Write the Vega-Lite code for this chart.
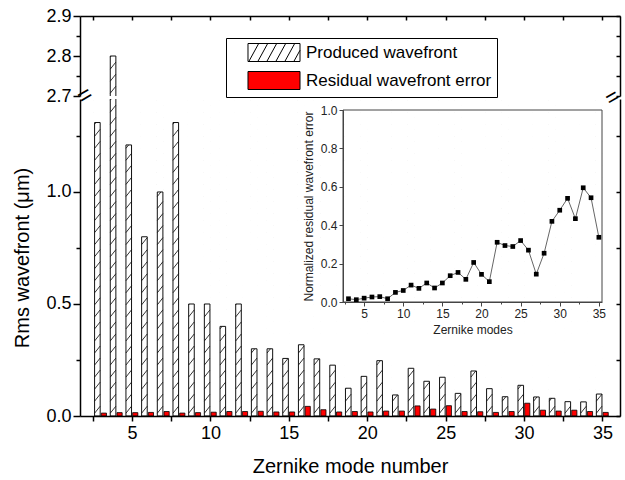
{
 "$schema": "https://vega.github.io/schema/vega-lite/v6.json",
 "padding": {"left": 12, "top": 7, "right": 2, "bottom": 2},
 "bounds": "flush",
 "spacing": 3,
 "config": {
   "font": "Liberation Sans",
   "view": {"stroke": null},
   "axis": {"grid": false, "domain": true, "ticks": true, "domainColor": "black", "tickColor": "black", "labelColor": "black", "titleColor": "black", "titleFontWeight": "normal", "domainOpacity": 1, "tickOpacity": 1, "domainWidth": 1.5, "tickWidth": 1.5}
 },
 "datasets": {
  "bars": [
   {"mode":3,"series":"Produced wavefront","rms":1.31},{"mode":4,"series":"Produced wavefront","rms":2.8},{"mode":5,"series":"Produced wavefront","rms":1.21},{"mode":6,"series":"Produced wavefront","rms":0.8},{"mode":7,"series":"Produced wavefront","rms":1.0},{"mode":8,"series":"Produced wavefront","rms":1.31},{"mode":9,"series":"Produced wavefront","rms":0.5},{"mode":10,"series":"Produced wavefront","rms":0.5},{"mode":11,"series":"Produced wavefront","rms":0.4},{"mode":12,"series":"Produced wavefront","rms":0.5},{"mode":13,"series":"Produced wavefront","rms":0.3},{"mode":14,"series":"Produced wavefront","rms":0.3},{"mode":15,"series":"Produced wavefront","rms":0.257},{"mode":16,"series":"Produced wavefront","rms":0.318},{"mode":17,"series":"Produced wavefront","rms":0.255},{"mode":18,"series":"Produced wavefront","rms":0.227},{"mode":19,"series":"Produced wavefront","rms":0.124},{"mode":20,"series":"Produced wavefront","rms":0.177},{"mode":21,"series":"Produced wavefront","rms":0.247},{"mode":22,"series":"Produced wavefront","rms":0.094},{"mode":23,"series":"Produced wavefront","rms":0.213},{"mode":24,"series":"Produced wavefront","rms":0.155},{"mode":25,"series":"Produced wavefront","rms":0.173},{"mode":26,"series":"Produced wavefront","rms":0.101},{"mode":27,"series":"Produced wavefront","rms":0.201},{"mode":28,"series":"Produced wavefront","rms":0.122},{"mode":29,"series":"Produced wavefront","rms":0.086},{"mode":30,"series":"Produced wavefront","rms":0.137},{"mode":31,"series":"Produced wavefront","rms":0.085},{"mode":32,"series":"Produced wavefront","rms":0.079},{"mode":33,"series":"Produced wavefront","rms":0.064},{"mode":34,"series":"Produced wavefront","rms":0.063},{"mode":35,"series":"Produced wavefront","rms":0.098},
   {"mode":3,"series":"Residual wavefront error","rms":0.013},{"mode":4,"series":"Residual wavefront error","rms":0.015},{"mode":5,"series":"Residual wavefront error","rms":0.015},{"mode":6,"series":"Residual wavefront error","rms":0.016},{"mode":7,"series":"Residual wavefront error","rms":0.02},{"mode":8,"series":"Residual wavefront error","rms":0.013},{"mode":9,"series":"Residual wavefront error","rms":0.015},{"mode":10,"series":"Residual wavefront error","rms":0.017},{"mode":11,"series":"Residual wavefront error","rms":0.02},{"mode":12,"series":"Residual wavefront error","rms":0.02},{"mode":13,"series":"Residual wavefront error","rms":0.021},{"mode":14,"series":"Residual wavefront error","rms":0.018},{"mode":15,"series":"Residual wavefront error","rms":0.018},{"mode":16,"series":"Residual wavefront error","rms":0.043},{"mode":17,"series":"Residual wavefront error","rms":0.028},{"mode":18,"series":"Residual wavefront error","rms":0.018},{"mode":19,"series":"Residual wavefront error","rms":0.02},{"mode":20,"series":"Residual wavefront error","rms":0.018},{"mode":21,"series":"Residual wavefront error","rms":0.022},{"mode":22,"series":"Residual wavefront error","rms":0.022},{"mode":23,"series":"Residual wavefront error","rms":0.045},{"mode":24,"series":"Residual wavefront error","rms":0.031},{"mode":25,"series":"Residual wavefront error","rms":0.046},{"mode":26,"series":"Residual wavefront error","rms":0.02},{"mode":27,"series":"Residual wavefront error","rms":0.019},{"mode":28,"series":"Residual wavefront error","rms":0.016},{"mode":29,"series":"Residual wavefront error","rms":0.02},{"mode":30,"series":"Residual wavefront error","rms":0.057},{"mode":31,"series":"Residual wavefront error","rms":0.026},{"mode":32,"series":"Residual wavefront error","rms":0.022},{"mode":33,"series":"Residual wavefront error","rms":0.026},{"mode":34,"series":"Residual wavefront error","rms":0.02},{"mode":35,"series":"Residual wavefront error","rms":0.016}
  ],
  "inset": [
   {"mode":3,"normalized":0.017},{"mode":4,"normalized":0.012},{"mode":5,"normalized":0.02},{"mode":6,"normalized":0.026},{"mode":7,"normalized":0.028},{"mode":8,"normalized":0.017},{"mode":9,"normalized":0.05},{"mode":10,"normalized":0.06},{"mode":11,"normalized":0.088},{"mode":12,"normalized":0.071},{"mode":13,"normalized":0.099},{"mode":14,"normalized":0.073},{"mode":15,"normalized":0.099},{"mode":16,"normalized":0.137},{"mode":17,"normalized":0.154},{"mode":18,"normalized":0.118},{"mode":19,"normalized":0.206},{"mode":20,"normalized":0.144},{"mode":21,"normalized":0.106},{"mode":22,"normalized":0.311},{"mode":23,"normalized":0.294},{"mode":24,"normalized":0.289},{"mode":25,"normalized":0.32},{"mode":26,"normalized":0.27},{"mode":27,"normalized":0.145},{"mode":28,"normalized":0.254},{"mode":29,"normalized":0.42},{"mode":30,"normalized":0.478},{"mode":31,"normalized":0.54},{"mode":32,"normalized":0.434},{"mode":33,"normalized":0.595},{"mode":34,"normalized":0.543},{"mode":35,"normalized":0.337}
  ]
 },
 "vconcat": [
  {
   "width": 540, "height": 80,
   "data": {"name": "bars"},
   "transform": [{"filter": "datum.series === 'Produced wavefront' && datum.rms > 2.7"}],
   "layer": [
    {
     "mark": {"type": "point", "shape": "M-1,-1L1,-3.5M-1,-5.3L1,-7.8M-1,-9.6L1,-12.1M-1,-13.9L1,-16.4M-1,-18.2L1,-20.7M-1,-22.5L1,-25M-1,-26.8L1,-29.3M-1,-31.1L1,-33.6M-1,-35.4L1,-37.9M-1,-39.7L1,-42.2M-1,-44L1,-46.5M-1,-48.3L1,-50.8M-1,-52.6L1,-55.1M-1,-56.9L1,-59.4M-1,-61.2L1,-63.7M-1,-65.5L1,-68M-1,-69.8L1,-72.3M-1,-74.1L1,-76.6M-1,-78.4L1,-80.9M-1,-82.7L1,-85.2M-1,-87L1,-89.5M-1,-91.3L1,-93.8M-1,-95.6L1,-98.1M-1,-99.9L1,-102.4M-1,-104.2L1,-106.7M-1,-108.5L1,-111M-1,-112.8L1,-115.3", "size": 31.36, "filled": false, "stroke": "black", "strokeWidth": 0.8, "opacity": 1, "xOffset": -3.3, "clip": true},
     "encoding": {
      "x": {"field": "mode", "type": "quantitative", "scale": {"domain": [2, 35.8], "nice": false, "zero": false}, "axis": {"orient": "top", "values": [2.5,5,7.5,10,12.5,15,17.5,20,22.5,25,27.5,30,32.5,35], "labels": false, "title": null, "tickSize": -4, "zindex": 1}},
      "y": {"datum": 2.7, "type": "quantitative", "scale": {"domain": [2.7, 2.9], "nice": false, "zero": false}, "axis": {"orient": "left", "values": [2.7, 2.75, 2.8, 2.85, 2.9], "format": ".1f", "labelExpr": "abs(datum.value*10 - round(datum.value*10)) < 0.001 ? datum.label : ''", "tickSize": {"condition": {"test": "abs(datum.value*10 - round(datum.value*10)) < 0.001", "value": 7}, "value": 4}, "labelFontSize": 18, "labelPadding": 2, "title": null, "zindex": 1}}
     }
    },
    {
     "mark": {"type": "bar", "width": 7.5, "xOffset": -3.3, "fill": "white", "clip": true},
     "encoding": {
      "x": {"field": "mode", "type": "quantitative"},
      "y": {"field": "rms", "type": "quantitative", "axis": {"orient": "right", "values": [2.7, 2.75, 2.8, 2.85, 2.9], "labels": false, "title": null, "tickSize": -4, "zindex": 1}},
      "y2": {"datum": 3.0}
     }
    },
    {
     "mark": {"type": "bar", "width": 5.6, "xOffset": -3.3, "fill": "transparent", "stroke": "#111", "strokeWidth": 1, "clip": true},
     "encoding": {
      "x": {"field": "mode", "type": "quantitative"},
      "y": {"field": "rms", "type": "quantitative", "axis": null}
     }
    },
    {
     "data": {"values": [{}]},
     "mark": {"type": "text", "text": "=", "fontSize": 24, "angle": -30, "align": "center", "baseline": "middle", "color": "black"},
     "encoding": {"x": {"datum": 2, "type": "quantitative"}, "y": {"datum": 2.7, "type": "quantitative", "axis": null}}
    },
    {
     "data": {"values": [{}]},
     "mark": {"type": "text", "text": "=", "fontSize": 22, "angle": -30, "align": "center", "baseline": "middle", "color": "black", "dx": -3},
     "encoding": {"x": {"datum": 35.8, "type": "quantitative"}, "y": {"datum": 2.7, "type": "quantitative", "axis": null}}
    }
   ],
   "resolve": {"axis": {"y": "independent"}}
  },
  {
   "width": 540, "height": 317,
   "layer": [
    {
     "data": {"name": "bars"},
     "layer": [
      {
       "transform": [{"filter": "datum.series === 'Produced wavefront'"}],
       "mark": {"type": "bar", "width": 5.6, "xOffset": -3.3, "clip": true},
       "encoding": {
        "x": {"field": "mode", "type": "quantitative", "scale": {"domain": [2, 35.8], "nice": false, "zero": false}, "axis": {"orient": "bottom", "values": [2.5,5,7.5,10,12.5,15,17.5,20,22.5,25,27.5,30,32.5,35], "labelExpr": "datum.value % 5 === 0 ? datum.label : ''", "tickSize": 5, "labelFontSize": 18, "labelPadding": 3, "labelFlush": false, "labelOverlap": false, "title": "Zernike mode number", "titleFontSize": 20, "titlePadding": 14, "zindex": 1}},
        "y": {"field": "rms", "type": "quantitative", "scale": {"domain": [0, 1.415], "nice": false}, "axis": {"orient": "left", "values": [0, 0.25, 0.5, 0.75, 1, 1.25], "format": ".1f", "labelExpr": "datum.value % 0.5 === 0 ? datum.label : ''", "tickSize": {"condition": {"test": "datum.value % 0.5 === 0", "value": 7}, "value": 4}, "labelFontSize": 18, "labelPadding": 2, "title": "Rms wavefront (μm)", "titleFontSize": 20, "titlePadding": 13, "zindex": 1}},
        "fill": {"field": "series", "type": "nominal", "scale": {"domain": ["Produced wavefront", "Residual wavefront error"], "range": ["white", "#ff0000"]},
         "legend": {"orient": "none", "legendX": 146, "legendY": 22, "title": null, "strokeColor": "black", "fillColor": "white", "padding": 5, "symbolSize": 324, "symbolStrokeColor": "black", "symbolStrokeWidth": 1, "symbolOffset": 33.5, "labelOffset": 22.5, "labelFontSize": 17, "labelLimit": 400, "labelColor": "black", "rowPadding": 5,
          "encode": {"symbols": {"update": {"shape": {"signal": "datum.value === 'Produced wavefront' ? 'M-2.889,-1H2.889V1H-2.889ZM-2.8,1L-1.7,-1M-1.8,1L-0.7,-1M-0.8,1L0.3,-1M0.2,1L1.3,-1M1.2,1L2.3,-1M2.2,1L2.889,-0.25' : 'M-2.889,-1H2.889V1H-2.889Z'"}}}}}}
       }
      },
      {
       "transform": [{"filter": "datum.series === 'Residual wavefront error'"}],
       "mark": {"type": "bar", "width": 5.2, "xOffset": 3.2, "stroke": "black", "strokeWidth": 0.8, "clip": true},
       "encoding": {
        "x": {"field": "mode", "type": "quantitative"},
        "y": {"field": "rms", "type": "quantitative", "axis": {"orient": "right", "values": [0, 0.25, 0.5, 0.75, 1, 1.25], "labels": false, "title": null, "tickSize": -4, "zindex": 1}},
        "fill": {"field": "series", "type": "nominal"}
       }
      },
      {
       "transform": [{"filter": "datum.series === 'Produced wavefront'"}],
       "mark": {"type": "point", "shape": "M-1,-1L1,-3.5M-1,-5.3L1,-7.8M-1,-9.6L1,-12.1M-1,-13.9L1,-16.4M-1,-18.2L1,-20.7M-1,-22.5L1,-25M-1,-26.8L1,-29.3M-1,-31.1L1,-33.6M-1,-35.4L1,-37.9M-1,-39.7L1,-42.2M-1,-44L1,-46.5M-1,-48.3L1,-50.8M-1,-52.6L1,-55.1M-1,-56.9L1,-59.4M-1,-61.2L1,-63.7M-1,-65.5L1,-68M-1,-69.8L1,-72.3M-1,-74.1L1,-76.6M-1,-78.4L1,-80.9M-1,-82.7L1,-85.2M-1,-87L1,-89.5M-1,-91.3L1,-93.8M-1,-95.6L1,-98.1M-1,-99.9L1,-102.4M-1,-104.2L1,-106.7M-1,-108.5L1,-111M-1,-112.8L1,-115.3", "size": 31.36, "filled": false, "stroke": "black", "strokeWidth": 0.8, "opacity": 1, "xOffset": -3.3, "clip": true},
       "encoding": {
        "x": {"field": "mode", "type": "quantitative"},
        "y": {"datum": 0, "type": "quantitative", "axis": null}
       }
      },
      {
       "transform": [{"filter": "datum.series === 'Produced wavefront'"}],
       "mark": {"type": "bar", "width": 7.5, "xOffset": -3.3, "fill": "white", "clip": true},
       "encoding": {
        "x": {"field": "mode", "type": "quantitative"},
        "y": {"field": "rms", "type": "quantitative", "axis": null},
        "y2": {"datum": 1.6}
       }
      },
      {
       "transform": [{"filter": "datum.series === 'Produced wavefront'"}],
       "mark": {"type": "bar", "width": 5.6, "xOffset": -3.3, "fill": "transparent", "stroke": "#111", "strokeWidth": 1, "clip": true},
       "encoding": {
        "x": {"field": "mode", "type": "quantitative"},
        "y": {"field": "rms", "type": "quantitative", "axis": null}
       }
      }
     ],
     "resolve": {"axis": {"y": "independent"}}
    },
    {
     "data": {"name": "inset"},
     "layer": [
      {
       "mark": {"type": "line", "color": "#666", "strokeWidth": 1},
       "encoding": {
        "x": {"field": "mode", "type": "quantitative", "scale": {"domain": [2.3, 35.4], "range": [263, 522], "nice": false, "zero": false}, "axis": {"orient": "bottom", "offset": -114, "values": [2.5,5,7.5,10,12.5,15,17.5,20,22.5,25,27.5,30,32.5,35], "labelExpr": "datum.value % 5 === 0 ? datum.label : ''", "tickSize": {"condition": {"test": "datum.value % 5 === 0", "value": 4}, "value": 2}, "labelFontSize": 12, "labelPadding": 2, "labelFlush": false, "labelOverlap": false, "domainColor": "#444", "tickColor": "#444", "domainWidth": 1, "tickWidth": 1, "labelColor": "#222", "titleColor": "#222", "title": "Zernike modes", "titleFontSize": 12, "titlePadding": 5, "zindex": 1}},
        "y": {"field": "normalized", "type": "quantitative", "scale": {"domain": [0, 1], "range": [203, 11], "nice": false}, "axis": {"orient": "left", "offset": -263, "values": [0,0.1,0.2,0.3,0.4,0.5,0.6,0.7,0.8,0.9,1], "format": ".1f", "labelExpr": "round(datum.value*10) % 2 === 0 ? datum.label : ''", "tickSize": {"condition": {"test": "round(datum.value*10) % 2 === 0", "value": 4}, "value": 2}, "labelFontSize": 12, "labelPadding": 2, "labelOverlap": false, "domainColor": "#444", "tickColor": "#444", "domainWidth": 1, "tickWidth": 1, "labelColor": "#222", "titleColor": "#222", "title": "Normalized residual wavefront error", "titleFontSize": 12, "titlePadding": 5, "zindex": 1}}
       }
      },
      {
       "data": {"values": [{}]},
       "mark": {"type": "rect", "fill": "transparent", "stroke": "#444", "strokeWidth": 1},
       "encoding": {
        "x": {"datum": 2.3, "type": "quantitative"},
        "x2": {"datum": 35.4},
        "y": {"datum": 0, "type": "quantitative"},
        "y2": {"datum": 1}
       }
      },
      {
       "mark": {"type": "point", "shape": "square", "filled": true, "color": "black", "size": 22, "opacity": 1},
       "encoding": {
        "x": {"field": "mode", "type": "quantitative"},
        "y": {"field": "normalized", "type": "quantitative"}
       }
      }
     ]
    }
   ],
   "resolve": {"scale": {"x": "independent", "y": "independent"}}
  }
 ]
}
